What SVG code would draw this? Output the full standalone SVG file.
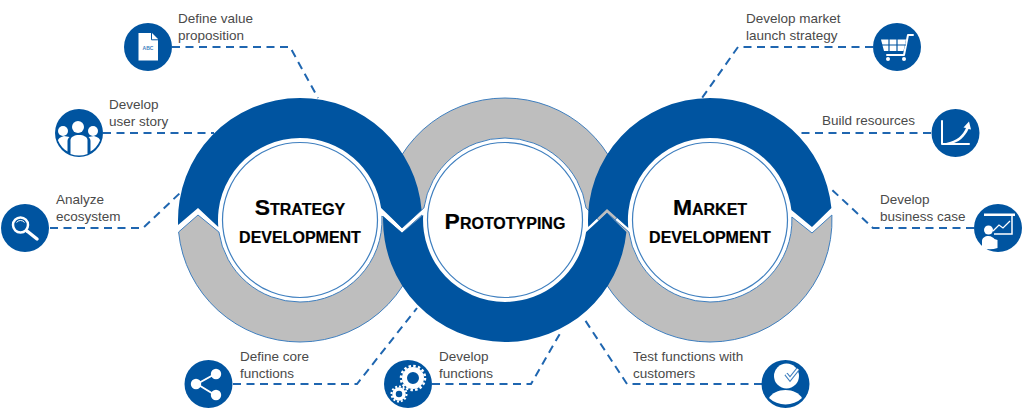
<svg xmlns="http://www.w3.org/2000/svg" width="1024" height="410" viewBox="0 0 1024 410">
<style>
.blue{fill:#0054a0}
.grey{fill:#bebebe;stroke:#3f7fbf;stroke-width:1}
.ring{fill:#fff;stroke:#3f7fbf;stroke-width:1.2}
.conn{fill:none;stroke:#1f66b0;stroke-width:2;stroke-dasharray:8 5.5}
.lab{font-family:"Liberation Sans",Arial,sans-serif;font-size:13.5px;fill:#4a4a4a}
.ttl{font-family:"Liberation Sans",Arial,sans-serif;font-size:22.9px;font-weight:bold;font-variant:small-caps;fill:#000;stroke:#000;stroke-width:.2;text-anchor:middle}
.dev{font-size:22.3px}
.ic{fill:#0054a0}
.w{fill:#fff}
.wl{fill:none;stroke:#fff;stroke-width:2;stroke-linecap:round;stroke-linejoin:round}
</style>
<g id="connectors">
<path class="conn" d="M172 47H290L318 98"/>
<path class="conn" d="M103 133H214"/>
<path class="conn" d="M50 228H143L180 193"/>
<path class="conn" d="M873 47H738L702 98"/>
<path class="conn" d="M931 133H801"/>
<path class="conn" d="M974 228H873L829 187"/>
<path class="conn" d="M233 384H357L417 308"/>
<path class="conn" d="M432 384H531L562 330"/>
<path class="conn" d="M762 384H627L583 317"/>
</g>
<g id="ring-prototyping-grey"><path class="grey" d="M383.6 208A122 122 0 0 1 505 98A122 122 0 0 1 626.4 208L607 228L586.1 208A82 82 0 0 0 505 138A82 82 0 0 0 423.9 208L402 228Z"/></g>
<g id="ring-strategy-grey"><path class="grey" d="M178.6 232A122 122 0 0 0 300 342A122 122 0 0 0 421.9 215L402 233L381.9 216A82 82 0 0 1 300 302A82 82 0 0 1 218.9 232L198 215Z"/></g>
<g id="ring-market-grey"><path class="grey" d="M831.9 215L812 233L791.9 217A82 82 0 0 1 710 302A82 82 0 0 1 628.9 232L607 213L588.6 232A122 122 0 0 0 710 342A122 122 0 0 0 831.9 215Z"/></g>
<g id="ring-strategy-blue"><path class="blue" d="M178.1 225A122 122 0 0 1 300 98A122 122 0 0 1 421.6 210L402 228L381.1 208A82 82 0 0 0 300 138A82 82 0 0 0 218.3 227L198 208Z"/></g>
<g id="ring-prototyping-blue"><path class="blue" d="M383.1 216A122 122 0 0 0 505 342A122 122 0 0 0 626.4 232L607 213L586.1 232A82 82 0 0 1 505 302A82 82 0 0 1 423.2 215L402 233Z"/></g>
<g id="ring-market-blue"><path class="blue" d="M588.2 227L607 209L628.3 228A82 82 0 0 1 710 138A82 82 0 0 1 791.4 210L812 227L831.4 208A122 122 0 0 0 710 98A122 122 0 0 0 588.2 227Z"/></g>
<g id="node-strategy">
<circle class="ring" cx="300" cy="220" r="77.500"/>
<text class="ttl" x="300" y="215">Strategy</text>
<text class="ttl dev" x="300" y="243">development</text>
</g>
<g id="node-prototyping">
<circle class="ring" cx="505" cy="220" r="77.500"/>
<text class="ttl" x="505" y="229">Prototyping</text>
</g>
<g id="node-market">
<circle class="ring" cx="710" cy="220" r="77.500"/>
<text class="ttl" x="710" y="215">Market</text>
<text class="ttl dev" x="710" y="243">development</text>
</g>
<g id="task-value">
<circle class="ic" cx="148" cy="47" r="24"/>
<path class="w" d="M138.500 33H152L158 39V60.500H138.500Z"/>
<path d="M151.500 33V39.800H158" fill="none" stroke="#0054a0" stroke-width="1"/>
<text x="148" y="50" text-anchor="middle" font-family="'Liberation Sans',sans-serif" font-size="5" font-weight="bold" fill="#3f7fbf">ABC</text>
<text class="lab"><tspan x="178" y="23">Define value</tspan><tspan x="178" y="40">proposition</tspan></text>
</g>
<g id="task-story">
<circle class="ic" cx="79" cy="133" r="24"/>
<path class="w" d="M64 136c-4 1-6 3-6 4.500 2 5 6 9 9.500 11V141c0-2 1-3 2-4zM94 136c4 1 6 3 6 4.500-2 5-6 9-9.500 11V141c0-2-1-3-2-4z"/>
<path class="w" d="M70.500 140c0-3 4-5 8.500-5s8.500 2 8.500 5V154a24 24 0 0 1-17 0Z"/>
<circle class="w" cx="63" cy="131" r="5"/><circle class="w" cx="93" cy="131" r="5"/><circle class="w" cx="78" cy="127" r="6"/>
<text class="lab"><tspan x="109" y="109">Develop</tspan><tspan x="109" y="126">user story</tspan></text>
</g>
<g id="task-ecosystem">
<circle class="ic" cx="25" cy="228" r="24"/>
<circle cx="20.500" cy="225" r="7.500" fill="none" stroke="#fff" stroke-width="2.500"/>
<path d="M16.500 222.500a5 5 0 0 1 8 0" fill="none" stroke="#fff" stroke-width="1"/>
<path d="M27 231L37 239" stroke="#fff" stroke-width="3.500" stroke-linecap="round"/>
<text class="lab"><tspan x="56" y="204">Analyze</tspan><tspan x="56" y="221">ecosystem</tspan></text>
</g>
<g id="task-launch">
<circle class="ic" cx="897" cy="47" r="24"/>
<path class="wl" d="M913 35H908L904 55H887"/>
<path class="w" d="M881 39.500H906L903.500 51H884Z"/>
<path d="M889 39V51M897 39V51M881 45H906" stroke="#0054a0" stroke-width="1.200"/>
<circle class="w" cx="888" cy="59" r="2"/><circle class="w" cx="904" cy="59" r="2"/>
<text class="lab"><tspan x="746" y="23">Develop market</tspan><tspan x="746" y="40">launch strategy</tspan></text>
</g>
<g id="task-resources">
<circle class="ic" cx="955.500" cy="133" r="24"/>
<path class="wl" d="M942 121V144H969"/>
<path class="w" d="M946 143C957 141 963 135 966 128L963.500 127.500L969 121.500L971 129.500L968.500 129C965 137 958 143 950 144Z"/>
<text class="lab" x="822" y="125">Build resources</text>
</g>
<g id="task-business">
<circle class="ic" cx="998" cy="228" r="24"/>
<path d="M985 215H1012V234H994" fill="none" stroke="#fff" stroke-width="1.500"/>
<path class="w" d="M984 213.500H1015V216H984Z"/>
<path d="M993 231L999 225L1003 228L1010 221" fill="none" stroke="#fff" stroke-width="1.300"/>
<circle class="w" cx="988.500" cy="230" r="4.500"/>
<path class="w" d="M982 248V241c0-3 3-5 6.500-5 3 0 5 2 6 3l3 1v8a24 24 0 0 1-15.500 0Z"/>
<text class="lab"><tspan x="880" y="204">Develop</tspan><tspan x="880" y="221">business case</tspan></text>
</g>
<g id="task-core">
<circle class="ic" cx="208.500" cy="384" r="24"/>
<path class="wl" d="M215 374L197 384L215 395"/>
<circle class="w" cx="216" cy="374" r="5.200"/><circle class="w" cx="196" cy="384" r="5.200"/><circle class="w" cx="216" cy="395" r="5.200"/>
<text class="lab"><tspan x="240" y="361">Define core</tspan><tspan x="240" y="378">functions</tspan></text>
</g>
<g id="task-functions">
<circle class="ic" cx="408" cy="384" r="24"/>
<circle cx="413" cy="378" r="8.500" fill="none" stroke="#fff" stroke-width="5"/>
<circle cx="413" cy="378" r="12" fill="none" stroke="#fff" stroke-width="2.500" stroke-dasharray="2.500 2.200"/>
<circle cx="399" cy="394" r="5" fill="none" stroke="#fff" stroke-width="3.500"/>
<circle cx="399" cy="394" r="7.500" fill="none" stroke="#fff" stroke-width="2" stroke-dasharray="2 1.900"/>
<text class="lab"><tspan x="439" y="361">Develop</tspan><tspan x="439" y="378">functions</tspan></text>
</g>
<g id="task-test">
<circle class="ic" cx="785.500" cy="384" r="24"/>
<circle class="w" cx="786.500" cy="376" r="12.500"/>
<path class="w" d="M769 398c3-5 9-8 16.500-8s13.500 3 16.500 8a24 24 0 0 1-33 0Z"/>
<path d="M786 374L790 379L798 369" fill="none" stroke="#3f7fbf" stroke-width="4"/>
<path d="M786 374L790 379L798 369" fill="none" stroke="#fff" stroke-width="2"/>
<text class="lab"><tspan x="633" y="361">Test functions with</tspan><tspan x="633" y="378">customers</tspan></text>
</g>
</svg>
